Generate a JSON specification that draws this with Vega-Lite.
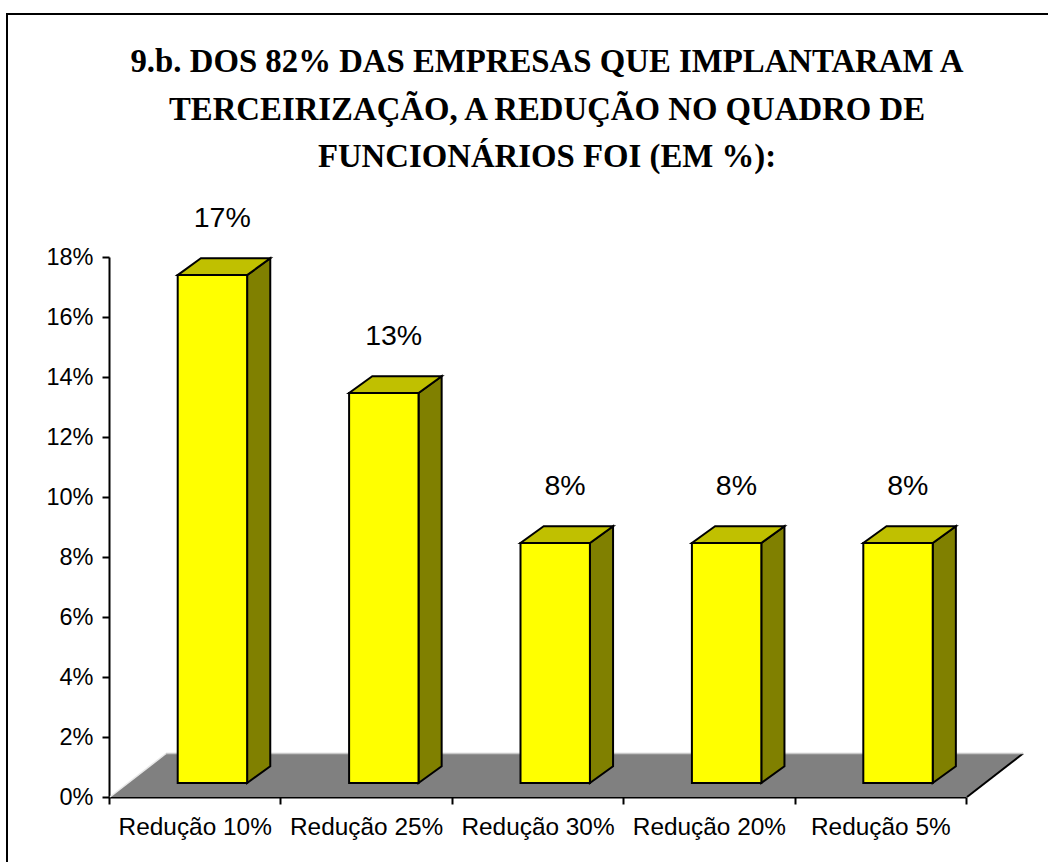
{
"$schema":"https://vega.github.io/schema/vega-lite/v6.json",
"width":1043,"height":850,
"autosize":{"type":"none"},
"padding":{"left":7,"top":14,"right":-2,"bottom":-2},
"background":"white",
"view":{"stroke":"black","strokeWidth":2,"fill":"white"},
"title":{"text":["9.b. DOS 82% DAS EMPRESAS QUE IMPLANTARAM A","TERCEIRIZAÇÃO, A REDUÇÃO NO QUADRO DE","FUNCIONÁRIOS FOI (EM %):"],"font":"Liberation Serif","fontSize":32.8,"fontWeight":"bold","color":"black","lineHeight":47.5,"baseline":"top","anchor":"middle","offset":-160,"dx":18.5},
"data":{"values":[
{"category":"Redução 10%","value":0.1693},
{"category":"Redução 25%","value":0.13},
{"category":"Redução 30%","value":0.08},
{"category":"Redução 20%","value":0.08},
{"category":"Redução 5%","value":0.08}
]},
"transform":[
{"window":[{"op":"row_number","as":"n"}]},
{"calculate":"datum.n-1+0.395","as":"left"},
{"calculate":"datum.n-1+0.80","as":"right"},
{"calculate":"0.00467","as":"base"},
{"calculate":"datum.base+datum.value","as":"top"}
],
"resolve":{"scale":{"x":"independent"},"axis":{"y":"independent"}},
"layer":[
{"mark":{"type":"bar","opacity":0},
 "encoding":{
  "x":{"field":"category","type":"nominal","sort":null,"scale":{"type":"band","range":[102,959],"paddingInner":0,"paddingOuter":0},
   "axis":{"title":null,"orient":"bottom","offset":-67,"tickBand":"extent","labelAngle":0,"labelFont":"Liberation Sans","labelFontSize":24.4,"labelColor":"black","labelPadding":11,"tickColor":"black","tickWidth":2,"tickSize":7,"domainColor":"black","domainWidth":2,"grid":false,"labelOverlap":false}},
  "y":{"field":"value","type":"quantitative","scale":{"domain":[0,0.18],"range":[783,243],"nice":false,"zero":true},
   "axis":{"title":null,"orient":"left","offset":-102,"values":[0,0.02,0.04,0.06,0.08,0.1,0.12,0.14,0.16,0.18],"format":".0%","labelFont":"Liberation Sans","labelFontSize":23.5,"labelColor":"black","labelPadding":9,"tickColor":"black","tickWidth":2,"tickSize":7,"domainColor":"black","domainWidth":2,"grid":false}}
 }},
{"data":{"values":[{"t":0},{"t":1}]},
 "transform":[{"calculate":"0.327*datum.t","as":"x0"},{"calculate":"5+0.327*datum.t","as":"x1"},{"calculate":"0.0145*datum.t","as":"yy"}],
 "mark":{"type":"area","orient":"horizontal","fill":"#808080"},
 "encoding":{
  "y":{"field":"yy","type":"quantitative","scale":{"domain":[0,0.18],"range":[783,243],"nice":false},"axis":null},
  "x":{"field":"x0","type":"quantitative","scale":{"domain":[0,5],"range":[103,960],"nice":false,"zero":false},"axis":null},
  "x2":{"field":"x1"}
 }},
{"data":{"values":[{"t":0},{"t":1}]},
 "transform":[{"calculate":"5+0.327*datum.t","as":"x1"},{"calculate":"0.0145*datum.t","as":"yy"}],
 "mark":{"type":"line","color":"black","strokeWidth":2},
 "encoding":{
  "y":{"field":"yy","type":"quantitative","scale":{"domain":[0,0.18],"range":[783,243],"nice":false},"axis":null},
  "x":{"field":"x1","type":"quantitative","scale":{"domain":[0,5],"range":[103,960],"nice":false,"zero":false},"axis":null}
 }},
{"data":{"values":[{"t":0},{"t":1}]},
 "transform":[{"calculate":"0.327*datum.t","as":"x0"},{"calculate":"0.0145*datum.t","as":"yy"}],
 "mark":{"type":"line","color":"#e8e8e8","strokeWidth":1.5},
 "encoding":{
  "y":{"field":"yy","type":"quantitative","scale":{"domain":[0,0.18],"range":[783,243],"nice":false},"axis":null},
  "x":{"field":"x0","type":"quantitative","scale":{"domain":[0,5],"range":[103,960],"nice":false,"zero":false},"axis":null}
 }},
{"data":{"values":[{"t":1}]},
 "transform":[{"calculate":"0.327","as":"x0"},{"calculate":"5.327","as":"x1"},{"calculate":"0.0145","as":"yy"}],
 "mark":{"type":"rule","color":"#c8c8c8","strokeWidth":1.5},
 "encoding":{
  "y":{"field":"yy","type":"quantitative","scale":{"domain":[0,0.18],"range":[783,243],"nice":false},"axis":null},
  "x":{"field":"x0","type":"quantitative","scale":{"domain":[0,5],"range":[103,960],"nice":false,"zero":false},"axis":null},
  "x2":{"field":"x1"}
 }},
{"transform":[{"calculate":"[0,1]","as":"t"},{"flatten":["t"]},
  {"calculate":"datum.right+0.135*datum.t","as":"sx"},
  {"calculate":"datum.base+0.0056*datum.t","as":"sy"},
  {"calculate":"datum.top+0.0056*datum.t","as":"sy2"}],
 "mark":{"type":"area","orient":"vertical","fill":"#808000","stroke":"black","strokeWidth":2},
 "encoding":{
  "detail":{"field":"category"},
  "x":{"field":"sx","type":"quantitative","scale":{"domain":[0,5],"range":[103,960],"nice":false,"zero":false},"axis":null},
  "y":{"field":"sy","type":"quantitative","scale":{"domain":[0,0.18],"range":[783,243],"nice":false},"axis":null},
  "y2":{"field":"sy2"}
 }},
{"transform":[{"calculate":"[0,1]","as":"t"},{"flatten":["t"]},
  {"calculate":"datum.left+0.135*datum.t","as":"tx"},
  {"calculate":"datum.right+0.135*datum.t","as":"tx2"},
  {"calculate":"datum.top+0.0056*datum.t","as":"ty"}],
 "mark":{"type":"area","orient":"horizontal","fill":"#C0C000","stroke":"black","strokeWidth":2},
 "encoding":{
  "detail":{"field":"category"},
  "y":{"field":"ty","type":"quantitative","scale":{"domain":[0,0.18],"range":[783,243],"nice":false},"axis":null},
  "x":{"field":"tx","type":"quantitative","scale":{"domain":[0,5],"range":[103,960],"nice":false,"zero":false},"axis":null},
  "x2":{"field":"tx2"}
 }},
{"mark":{"type":"rect","fill":"#FFFF00","stroke":"black","strokeWidth":2},
 "encoding":{
  "x":{"field":"left","type":"quantitative","scale":{"domain":[0,5],"range":[103,960],"nice":false,"zero":false},"axis":null},
  "x2":{"field":"right"},
  "y":{"field":"base","type":"quantitative","scale":{"domain":[0,0.18],"range":[783,243],"nice":false},"axis":null},
  "y2":{"field":"top"}
 }},
{"transform":[{"calculate":"datum.n-1+0.655","as":"lx"}],
 "mark":{"type":"text","font":"Liberation Sans","fontSize":28.5,"color":"black","baseline":"middle","dy":-57},
 "encoding":{
  "x":{"field":"lx","type":"quantitative","scale":{"domain":[0,5],"range":[103,960],"nice":false,"zero":false},"axis":null},
  "y":{"field":"top","type":"quantitative","scale":{"domain":[0,0.18],"range":[783,243],"nice":false},"axis":null},
  "text":{"field":"value","type":"quantitative","format":".0%"}
 }}
]
}
